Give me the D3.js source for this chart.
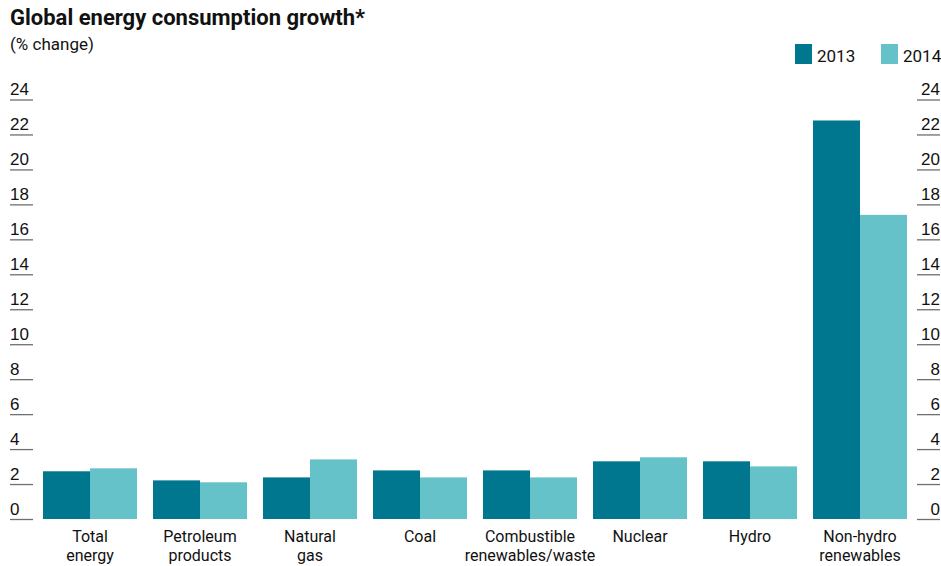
<!DOCTYPE html>
<html>
<head>
<meta charset="utf-8">
<script src="https://cdn.jsdelivr.net/npm/d3@7"></script>
<style>
  body { margin: 0; background: #fff; }
  svg { display: block; font-family: Roboto, "Noto Sans", sans-serif; }
</style>
</head>
<body>
<svg id="chart" width="941" height="566"></svg>
<script>
// Energy consumption growth by source, % change on previous year
const categories = [
  ["Total", "energy"],
  ["Petroleum", "products"],
  ["Natural", "gas"],
  ["Coal"],
  ["Combustible", "renewables/waste"],
  ["Nuclear"],
  ["Hydro"],
  ["Non-hydro", "renewables"]
];
const seriesNames = ["2013", "2014"];
const values2013 = [2.73, 2.21, 2.38, 2.78, 2.78, 3.30, 3.30, 22.8];
const values2014 = [2.90, 2.10, 3.41, 2.38, 2.38, 3.53, 3.01, 17.4];
const tickValues = [0, 2, 4, 6, 8, 10, 12, 14, 16, 18, 20, 22, 24];
const colors = ["#00768f", "#66c2c9"];

const svg = d3.select("#chart");
const keys = categories.map(c => c.join(" "));
const series = [values2013, values2014];

const x = d3.scaleBand().domain(keys).range([43, 907]).paddingInner(16 / 110).paddingOuter(0);
const xs = d3.scaleBand().domain(seriesNames).range([0, x.bandwidth()]);
const y = d3.scaleLinear().domain([0, 24]).range([519, 99.5]);

// Title and unit
svg.append("text").attr("x", 10).attr("y", 25)
  .attr("font-size", 22).attr("font-weight", 700).attr("fill", "#111")
  .text("Global energy consumption growth*");
svg.append("text").attr("x", 10).attr("y", 50)
  .attr("font-size", 17).attr("fill", "#111")
  .text("(% change)");

// Axes on both sides: short rules with the value sitting above each one
const tickColor = "#6f6f6f";
const left = svg.append("g").attr("transform", "translate(33,0)")
  .call(d3.axisLeft(y).tickValues(tickValues).tickSize(23).tickFormat(d3.format("d")));
left.select(".domain").remove();
left.selectAll(".tick line").attr("stroke", tickColor).attr("stroke-width", 1.3);
left.selectAll(".tick text").attr("x", -23).attr("y", -5).attr("dy", 0)
  .attr("text-anchor", "start").attr("font-size", 17).attr("font-family", null).attr("fill", "#111");

const right = svg.append("g").attr("transform", "translate(917,0)")
  .call(d3.axisRight(y).tickValues(tickValues).tickSize(23).tickFormat(d3.format("d")));
right.select(".domain").remove();
right.selectAll(".tick line").attr("stroke", tickColor).attr("stroke-width", 1.3);
right.selectAll(".tick text").attr("x", 23).attr("y", -5).attr("dy", 0)
  .attr("text-anchor", "end").attr("font-size", 17).attr("font-family", null).attr("fill", "#111");

// Bars
const groups = svg.append("g").selectAll("g").data(keys).join("g")
  .attr("transform", d => `translate(${x(d)},0)`);
groups.selectAll("rect")
  .data((d, i) => seriesNames.map((s, j) => ({ s, v: series[j][i], j })))
  .join("rect")
  .attr("x", d => xs(d.s))
  .attr("width", xs.bandwidth())
  .attr("y", d => y(d.v))
  .attr("height", d => y(0) - y(d.v))
  .attr("fill", d => colors[d.j]);

// Category labels
const labels = svg.append("g").selectAll("text").data(categories).join("text")
  .attr("x", (d, i) => x(keys[i]) + x.bandwidth() / 2)
  .attr("y", 542)
  .attr("text-anchor", "middle")
  .attr("font-size", 16)
  .attr("fill", "#111");
labels.selectAll("tspan").data(d => d).join("tspan")
  .attr("x", function () { return d3.select(this.parentNode).attr("x"); })
  .attr("dy", (d, i) => i === 0 ? 0 : 19)
  .text(d => d);

// Legend
const legendX = [795, 881];
const legend = svg.append("g").selectAll("g").data(seriesNames).join("g")
  .attr("transform", (d, i) => `translate(${legendX[i]},44)`);
legend.append("rect").attr("width", 17).attr("height", 20).attr("fill", (d, i) => colors[i]);
legend.append("text").attr("x", 22).attr("y", 18).attr("font-size", 17).attr("fill", "#111").text(d => d);
</script>
</body>
</html>
